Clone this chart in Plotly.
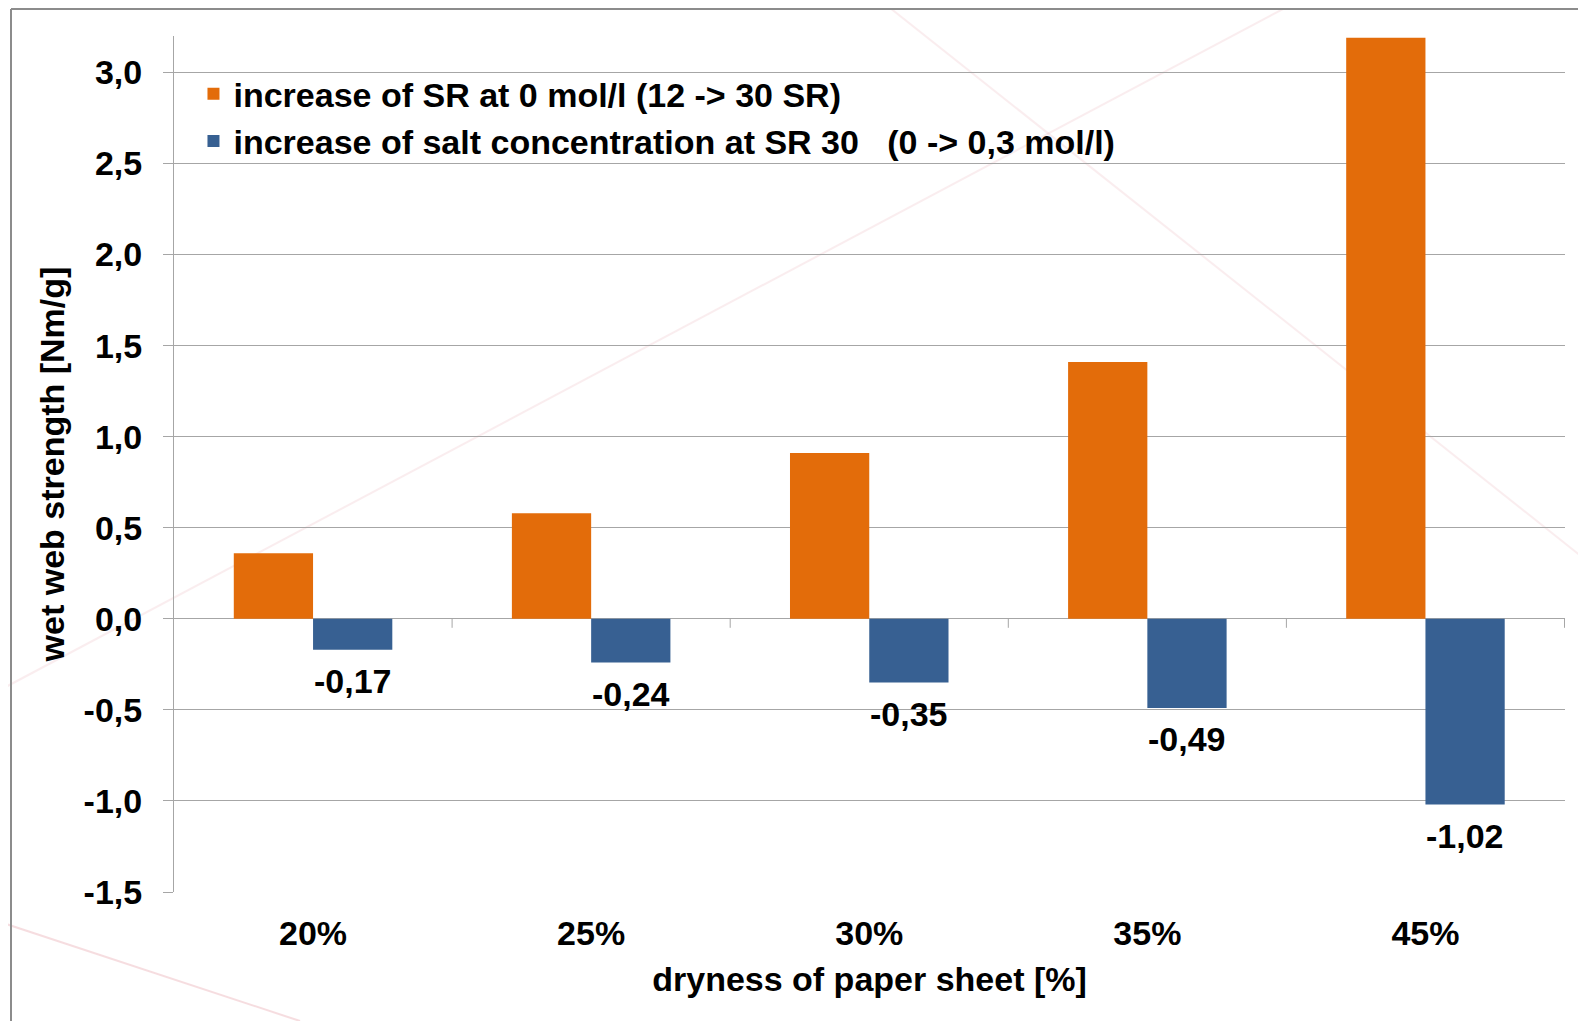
import plotly.graph_objects as go

categories = ["20%", "25%", "30%", "35%", "45%"]
sr_increase = [0.36, 0.58, 0.91, 1.41, 3.19]
salt_increase = [-0.17, -0.24, -0.35, -0.49, -1.02]
series_names = [
    "increase of SR at 0 mol/l (12 -> 30 SR)",
    "increase of salt concentration at SR 30\u00a0\u00a0\u00a0(0 -> 0,3 mol/l)",
]
y_ticks = [-1.5, -1.0, -0.5, 0.0, 0.5, 1.0, 1.5, 2.0, 2.5, 3.0]
y_range = [-1.5, 3.2]

ORANGE = "#E36C0A"
BLUE = "#376092"
GRID = "#A6A6A6"
FONT = "Liberation Sans, Arial, sans-serif"
FS = 34
BARGAP = 0.43

# page body has an 8px margin; figure drawn at (8, 8)
OFF = 8
W, H = 1586 - OFF, 1021 - OFF
ML, MR, MT, MB = 166, 21, 28, 129
PW, PH = W - ML - MR, H - MT - MB


def fmt(v, d):
    return f"{v:.{d}f}".replace(".", ",")


def bold(size=FS):
    return dict(family=FONT, size=size, color="black", weight="bold")


fig = go.Figure()
fig.add_trace(go.Bar(
    x=categories, y=sr_increase, name=series_names[0],
    marker=dict(color=ORANGE, line=dict(width=0)),
))
fig.add_trace(go.Bar(
    x=categories, y=salt_increase, name=series_names[1],
    marker=dict(color=BLUE, line=dict(width=0)),
))

# value labels below the blue bars
bar_offset = (1 - BARGAP) / 4
annotations = []
for i, v in enumerate(salt_increase):
    annotations.append(dict(x=i + bar_offset, y=v, xref="x", yref="y", text=fmt(v, 2),
                            showarrow=False, yanchor="top", xanchor="center", yshift=-10,
                            font=bold()))


def px(x):
    return (x - OFF - ML) / PW


def py(y):
    return (MT + PH - (y - OFF)) / PH


shapes = []
# faint decorative background lines
deco = [((0, 690), (1300, 0), 0.18), ((880, 0), (1586, 560), 0.18), ((0, 922), (300, 1021), 0.35)]
for (x0, y0), (x1, y1), op in deco:
    shapes.append(dict(type="line", xref="paper", yref="paper", x0=px(x0), y0=py(y0), x1=px(x1), y1=py(y1),
                       line=dict(color="#E8A0A8", width=2), opacity=op, layer="below"))
# slide frame
shapes.append(dict(type="line", xref="paper", yref="paper", x0=px(11), y0=py(9), x1=px(11), y1=py(1030),
                   line=dict(color="#8C8C8C", width=2)))
shapes.append(dict(type="line", xref="paper", yref="paper", x0=px(11), y0=py(9), x1=px(1600), y1=py(9),
                   line=dict(color="#8C8C8C", width=2)))
# category divider ticks on the zero line
for i in range(1, len(categories) + 1):
    shapes.append(dict(type="line", xref="x", yref="y", ysizemode="pixel", yanchor=0,
                       x0=i - 0.5, x1=i - 0.5, y0=0, y1=-9,
                       line=dict(color=GRID, width=1)))

fig.update_layout(
    width=W, height=H,
    margin=dict(l=ML, r=MR, t=MT, b=MB),
    paper_bgcolor="white", plot_bgcolor="rgba(0,0,0,0)",
    barmode="group", bargap=BARGAP, bargroupgap=0,
    font=bold(),
    legend=dict(x=0.014, y=0.966, xanchor="left", yanchor="top", bgcolor="rgba(0,0,0,0)",
                font=bold()),
    shapes=shapes,
    annotations=annotations,
    showlegend=True,
)
fig.update_xaxes(
    showgrid=False, showline=False, zeroline=False, ticks="",
    ticklabelstandoff=18,
    tickfont=bold(),
    title=dict(text="dryness of paper sheet [%]", standoff=16, font=bold()),
)
fig.update_yaxes(
    range=y_range, tickvals=y_ticks, ticktext=[fmt(v, 1) for v in y_ticks],
    showgrid=True, gridcolor=GRID, gridwidth=1,
    zeroline=True, zerolinecolor=GRID, zerolinewidth=1,
    showline=True, linecolor=GRID, linewidth=1,
    ticks="outside", ticklen=10, tickcolor=GRID,
    ticklabelstandoff=14,
    tickfont=bold(),
    title=dict(text="wet web strength [Nm/g]", standoff=8, font=bold()),
)

fig.write_html("out.html")
